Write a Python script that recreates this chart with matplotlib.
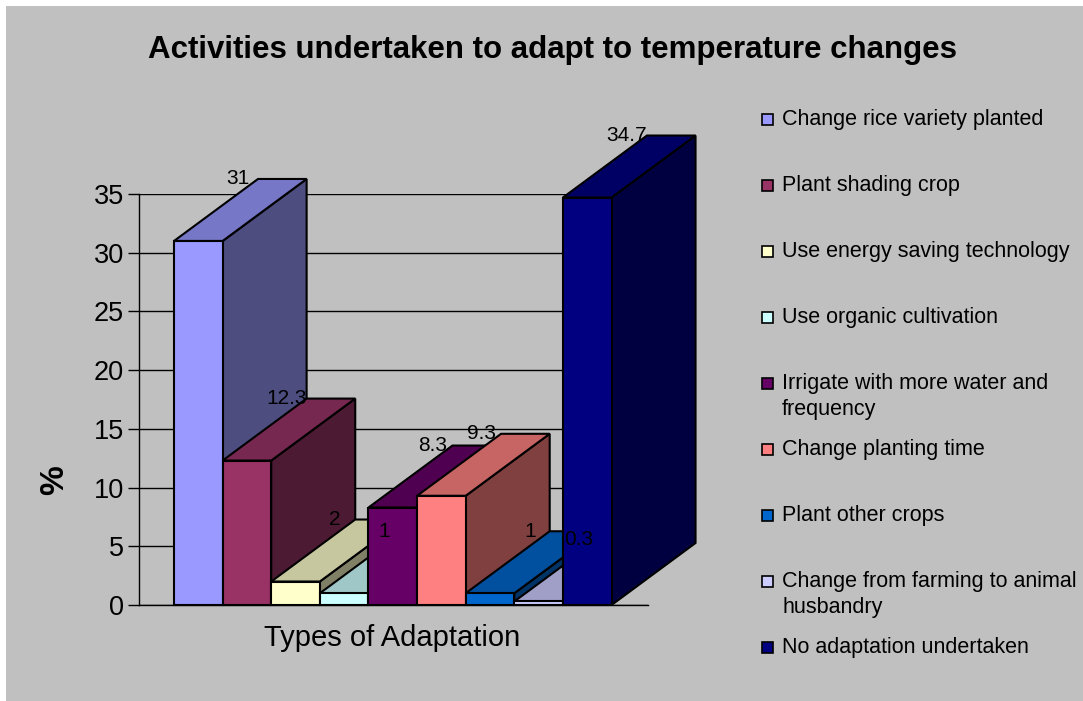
import matplotlib
matplotlib.use("Agg")
import matplotlib.pyplot as plt
from matplotlib.patches import Polygon, Rectangle
import matplotlib.colors as mcolors

plt.rcParams["font.family"] = ["Liberation Sans", "DejaVu Sans"]

# ---- data -------------------------------------------------------------
title = "Activities undertaken to adapt to temperature changes"
categories = [
    "Change rice variety planted",
    "Plant shading crop",
    "Use energy saving technology",
    "Use organic cultivation",
    "Irrigate with more water and\nfrequency",
    "Change planting time",
    "Plant other crops",
    "Change from farming to animal\nhusbandry",
    "No adaptation undertaken",
]
values = [31, 12.3, 2, 1, 8.3, 9.3, 1, 0.3, 34.7]
colors = ["#9999FF", "#993366", "#FFFFCC", "#CCFFFF", "#660066",
          "#FF8080", "#0066CC", "#CCCCFF", "#000080"]
y_ticks = [0, 5, 10, 15, 20, 25, 30, 35]
x_label = "Types of Adaptation"
y_label = "%"

# ---- figure -----------------------------------------------------------
W, H = 1083, 701
fig = plt.figure(figsize=(W / 100, H / 100), dpi=100)
fig.patch.set_facecolor("white")
fig.add_artist(Rectangle((6 / W, 0), 1 - 6 / W, 1 - 6 / H,
                         transform=fig.transFigure, facecolor="#C0C0C0",
                         edgecolor="none", zorder=-10))

ax_l, ax_r, ax_t, ax_b = 139, 648, 194, 605
ax = fig.add_axes([ax_l / W, 1 - ax_b / H, (ax_r - ax_l) / W, (ax_b - ax_t) / H])
ax.set_facecolor("none")
xmin, xmax = -1.22, 9.25
ax.set_xlim(xmin, xmax)
ax.set_ylim(0, 35)

# depth of the pseudo-3D extrusion, in pixels, converted to data units
depth_px = (84, 62)
dx = depth_px[0] * (xmax - xmin) / (ax_r - ax_l)
dy = depth_px[1] * 35 / (ax_b - ax_t)


def shade(c, f):
    r, g, b = mcolors.to_rgb(c)
    return (r * f, g * f, b * f)


ax.set_yticks(y_ticks)
ax.set_xticks([])
ax.yaxis.grid(True, color="black", linewidth=1.0, zorder=0)
ax.set_axisbelow(True)
for s in ("top", "right"):
    ax.spines[s].set_visible(False)
for s in ("left", "bottom"):
    ax.spines[s].set_color("black")
    ax.spines[s].set_linewidth(1.0)
    ax.spines[s].set_zorder(0.5)
ax.tick_params(axis="y", direction="out", length=8, width=1.0,
               labelsize=19.5, pad=3, colors="black")

lw = 1.5
for i, (v, c) in enumerate(zip(values, colors)):
    x0, x1 = i - 0.5, i + 0.5
    z = 2 + i * 0.1
    side = Polygon([(x1, 0), (x1 + dx, dy), (x1 + dx, v + dy), (x1, v)],
                   closed=True, facecolor=shade(c, 0.5), edgecolor="black",
                   linewidth=lw, zorder=z, clip_on=False, joinstyle="miter")
    top = Polygon([(x0, v), (x1, v), (x1 + dx, v + dy), (x0 + dx, v + dy)],
                  closed=True, facecolor=shade(c, 0.78), edgecolor="black",
                  linewidth=lw, zorder=z + 0.01, clip_on=False, joinstyle="miter")
    ax.add_patch(side)
    ax.add_patch(top)
    ax.bar(i, v, width=1.0, color=c, edgecolor="black", linewidth=lw,
           zorder=z + 0.02, clip_on=False)

for i, v in enumerate(values):
    ax.annotate(f"{v:g}", xy=(i - 0.5 + dx, v + dy), xytext=(-20, 0),
                textcoords="offset pixels", ha="center", va="center",
                fontsize=15, color="black", zorder=20, annotation_clip=False)

# ---- texts ------------------------------------------------------------
def fx(px):
    return px / W


def fy(py):
    return 1 - py / H


fig.text(fx(553), fy(50), title, ha="center", va="center",
         fontsize=22.5, fontweight="bold")
fig.text(fx(392), fy(638), x_label, ha="center", va="center", fontsize=21)
fig.text(fx(55), fy(480), y_label, ha="center", va="center", fontsize=24,
         fontweight="bold", rotation=90)

# ---- legend -----------------------------------------------------------
leg_y0, leg_step, line_step = 119, 66, 27
for k, (lab, c) in enumerate(zip(categories, colors)):
    yc = leg_y0 + k * leg_step
    fig.add_artist(Rectangle((fx(762), fy(yc + 6)), 11 / W, 11 / H,
                             transform=fig.transFigure, facecolor=c,
                             edgecolor="black", linewidth=1.2))
    for j, line in enumerate(lab.split("\n")):
        fig.text(fx(782), fy(yc + j * line_step), line, ha="left",
                 va="center", fontsize=15.5)

fig.savefig("out.png", dpi=100)
